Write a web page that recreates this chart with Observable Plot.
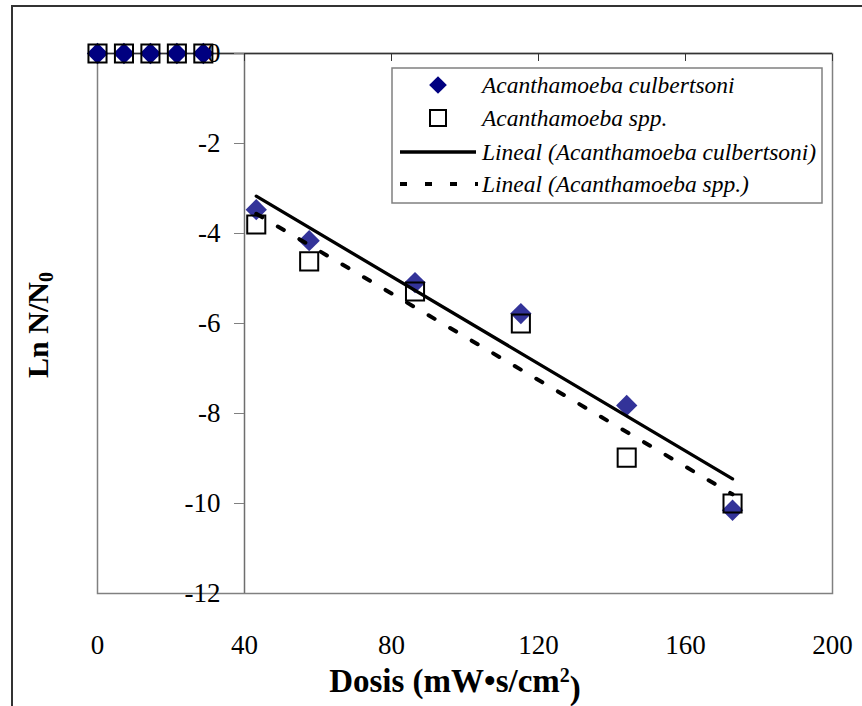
<!DOCTYPE html>
<html><head><meta charset="utf-8">
<script src="https://cdn.jsdelivr.net/npm/d3@7"></script>
<script src="https://cdn.jsdelivr.net/npm/@observablehq/plot@0.6"></script>
<style>
html,body{margin:0;padding:0;background:#fff;overflow:hidden;width:862px;height:706px;}
#wrap{position:relative;width:862px;height:706px;}
#outer{position:absolute;left:11px;top:5px;width:900px;height:800px;border:2px solid #333;box-sizing:border-box;}
#chart{position:absolute;left:0;top:0;}
</style></head><body>
<div id="wrap"><div id="outer"></div><div id="chart"></div></div>
<script>
// ---- data ----
const zeroDoses = [0, 7.2, 14.4, 21.6, 28.8];
const zeroLn = [0, 0, 0, 0, 0];
const doses = [43.2, 57.6, 86.4, 115.2, 144, 172.8];
const culbertsoni = [-3.47, -4.16, -5.09, -5.78, -7.82, -10.15];
const spp = [-3.8, -4.62, -5.29, -6.0, -8.98, -10.0];
const xTicks = [0, 40, 80, 120, 160, 200];
const yTicks = [0, -2, -4, -6, -8, -10, -12];
const yCross = 40;
const seriesNames = ["Acanthamoeba culbertsoni", "Acanthamoeba spp."];
const trendNames = ["Lineal (Acanthamoeba culbertsoni)", "Lineal (Acanthamoeba spp.)"];
const xTitle = "Dosis (mW•s/cm";
const yTitle = "Ln N/N";

const zeroData = zeroDoses.map((d, i) => ({dose: d, ln: zeroLn[i]}));
const main = doses.map((d, i) => ({dose: d, culb: culbertsoni[i], spp: spp[i]}));

const W = 862, H = 706, mL = 97, mR = 30, mT = 53, mB = 113;
const xs = d3.scaleLinear([0, 200], [mL, W - mR]);
const cross = xs(yCross) - xs(0);
const font = "'Liberation Serif','Times New Roman',serif";

const plot = Plot.plot({
  width: W, height: H,
  marginLeft: mL, marginRight: mR, marginTop: mT, marginBottom: mB,
  x: {domain: [0, 200]},
  y: {domain: [-12, 0]},
  style: {fontFamily: font, fontSize: "27px", background: "transparent", color: "black", overflow: "visible"},
  marks: [
    Plot.frame({stroke: "#808080", strokeWidth: 1.5}),
    Plot.ruleX([yCross], {stroke: "#6e6e6e", strokeWidth: 1.5}),
    Plot.ruleY([0], {stroke: "#333", strokeWidth: 1.5}),
    Plot.axisX(xTicks, {anchor: "top", tickSize: 7, dy: 7, stroke: "#333", fill: "none", label: null}),
    Plot.axisX(xTicks, {anchor: "bottom", tickSize: 0, tickPadding: 41, label: null, fontSize: 27, tickFormat: d => String(d)}),
    Plot.axisY(yTicks, {anchor: "left", dx: cross, tickSize: 10, tickPadding: 14, stroke: "#808080", label: null, fontSize: 27, tickFormat: d => String(d)}),
    Plot.dot(zeroData, {x: "dose", y: "ln", symbol: "diamond2", r: 9.6, fill: "#000080", stroke: "none"}),
    Plot.dot(main, {x: "dose", y: "culb", symbol: "diamond2", r: 9.6, fill: "#333399", stroke: "none"}),
    Plot.dot(zeroData, {x: "dose", y: "ln", symbol: "square", r: 10.2, fill: "none", stroke: "black", strokeWidth: 2}),
    Plot.dot(main, {x: "dose", y: "spp", symbol: "square", r: 10.2, fill: "none", stroke: "black", strokeWidth: 2}),
    Plot.linearRegressionY(main, {x: "dose", y: "culb", stroke: "black", strokeWidth: 3.3, ci: 0}),
    Plot.linearRegressionY(main, {x: "dose", y: "spp", stroke: "black", strokeWidth: 4, strokeDasharray: "7,18", ci: 0})
  ]
});
document.getElementById("chart").appendChild(plot);

const svg = d3.select(plot);
// x title
const xt = svg.append("text").attr("x", 455).attr("y", 692).attr("text-anchor", "middle")
  .attr("font-family", font).attr("font-weight", "bold").attr("font-size", 33).attr("fill", "black");
xt.append("tspan").text(xTitle);
xt.append("tspan").attr("dy", "-0.5em").attr("font-size", 20).text("2");
xt.append("tspan").attr("dy", "0.5em").text(")");
// y title
const yt = svg.append("text").attr("transform", "translate(48,325) rotate(-90)").attr("text-anchor", "middle")
  .attr("font-family", font).attr("font-weight", "bold").attr("font-size", 30).attr("fill", "black");
yt.append("tspan").text(yTitle);
yt.append("tspan").attr("dy", "0.25em").attr("font-size", 20).text("0");

// legend
const lg = svg.append("g").attr("transform", "translate(392,68)");
lg.append("rect").attr("width", 430).attr("height", 135).attr("fill", "white").attr("stroke", "#808080").attr("stroke-width", 1.5);
const rows = [17, 50, 84, 116];
lg.append("path").attr("d", d3.symbol(d3.symbolDiamond2, 200)()).attr("transform", `translate(46,${rows[0]})`).attr("fill", "#000080");
lg.append("rect").attr("x", 38).attr("y", rows[1] - 8).attr("width", 16).attr("height", 16).attr("fill", "white").attr("stroke", "black").attr("stroke-width", 2);
lg.append("line").attr("x1", 8).attr("x2", 84).attr("y1", rows[2]).attr("y2", rows[2]).attr("stroke", "black").attr("stroke-width", 3.5);
lg.append("line").attr("x1", 8).attr("x2", 86).attr("y1", rows[3]).attr("y2", rows[3]).attr("stroke", "black").attr("stroke-width", 4).attr("stroke-dasharray", "7,18");
const labels = [seriesNames[0], seriesNames[1], trendNames[0], trendNames[1]];
labels.forEach((t, i) => {
  lg.append("text").attr("x", 90).attr("y", rows[i]).attr("dy", "0.35em").attr("text-anchor", "start")
    .attr("font-family", font).attr("font-style", "italic").attr("font-size", 23.5).attr("fill", "black").text(t);
});
</script>
</body></html>
